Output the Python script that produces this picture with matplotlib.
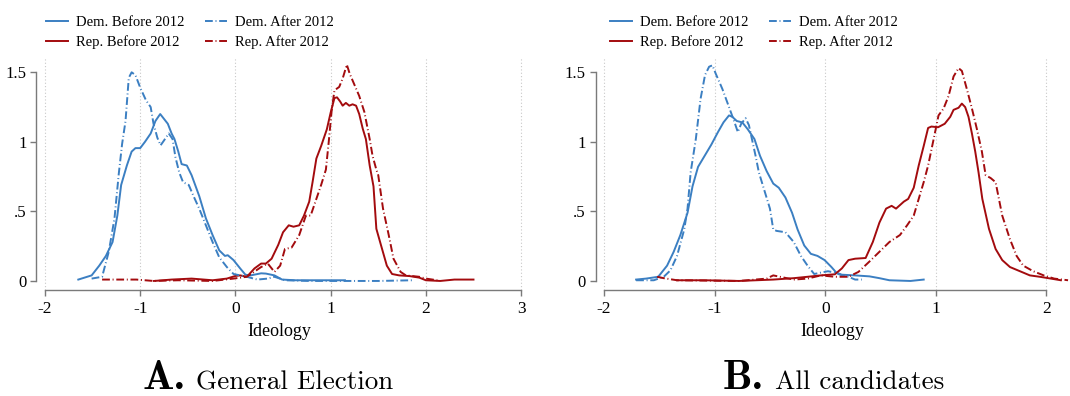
import numpy as np
import matplotlib.pyplot as plt

# kernel density traces of candidate ideology, read off as (x, density) pairs
# panel A: general election
a_dem_before_x = [-1.65, -1.51, -1.43, -1.36, -1.29, -1.24, -1.20, -1.14, -1.09, -1.05, -1.0, -0.95, -0.89, -0.84,
                  -0.79, -0.75, -0.71, -0.67, -0.64, -0.60, -0.565, -0.51, -0.46, -0.38, -0.31, -0.24, -0.17, -0.11,
                  -0.08, -0.02, 0.05, 0.105, 0.16, 0.27, 0.32, 0.41, 0.49, 0.63, 0.96, 1.15]
a_dem_before_y = [0.01, 0.04, 0.11, 0.18, 0.28, 0.47, 0.69, 0.83, 0.93, 0.955, 0.955, 1.0, 1.06, 1.15,
                  1.20, 1.165, 1.13, 1.06, 1.02, 0.93, 0.84, 0.83, 0.76, 0.61, 0.45, 0.33, 0.22, 0.18,
                  0.185, 0.15, 0.09, 0.045, 0.04, 0.055, 0.053, 0.04, 0.01, 0.005, 0.005, 0.005]
a_dem_after_x = [-1.51, -1.40, -1.33, -1.27, -1.225, -1.19, -1.154, -1.12, -1.09, -1.05, -1.0, -0.94, -0.89, -0.86,
                 -0.82, -0.786, -0.75, -0.70, -0.66, -0.63, -0.59, -0.55, -0.49, -0.44, -0.38, -0.31, -0.24, -0.17,
                 -0.09, -0.02, 0.05, 0.12, 0.23, 0.34, 0.41, 0.52, 0.78, 1.5, 1.86]
a_dem_after_y = [0.017, 0.03, 0.21, 0.45, 0.77, 0.985, 1.15, 1.46, 1.50, 1.48, 1.39, 1.30, 1.25, 1.13,
                 1.03, 0.975, 1.01, 1.06, 1.02, 0.89, 0.78, 0.71, 0.69, 0.61, 0.52, 0.40, 0.28, 0.17,
                 0.10, 0.05, 0.04, 0.03, 0.01, 0.017, 0.03, 0.005, 0.0, 0.0, 0.005]
a_rep_before_x = [-0.855, -0.67, -0.46, -0.24, -0.09, 0.0, 0.05, 0.12, 0.20, 0.27, 0.32, 0.38, 0.45, 0.50, 0.56,
                  0.61, 0.67, 0.72, 0.775, 0.81, 0.85, 0.90, 0.96, 1.0, 1.04, 1.067, 1.10, 1.126, 1.16, 1.196,
                  1.23, 1.267, 1.30, 1.337, 1.37, 1.41, 1.45, 1.48, 1.54, 1.59, 1.645, 1.72, 1.83, 1.93, 2.0,
                  2.15, 2.30, 2.50]
a_rep_before_y = [0.0, 0.01, 0.017, 0.005, 0.017, 0.036, 0.04, 0.03, 0.09, 0.125, 0.125, 0.16, 0.26, 0.35, 0.40,
                  0.39, 0.40, 0.47, 0.57, 0.71, 0.88, 0.97, 1.09, 1.21, 1.315, 1.32, 1.29, 1.26, 1.28, 1.26,
                  1.27, 1.26, 1.20, 1.095, 1.02, 0.83, 0.68, 0.375, 0.23, 0.11, 0.05, 0.04, 0.035, 0.024, 0.005,
                  0.0, 0.01, 0.01]
a_rep_after_x = [-1.40, -1.04, -0.86, -0.60, -0.24, -0.02, 0.12, 0.27, 0.34, 0.41, 0.47, 0.52, 0.59, 0.67, 0.74,
                 0.79, 0.85, 0.90, 0.95, 0.98, 1.01, 1.04, 1.09, 1.126, 1.17, 1.20, 1.25, 1.30, 1.354, 1.41,
                 1.44, 1.48, 1.50, 1.55, 1.61, 1.66, 1.735, 1.79, 1.93, 2.0, 2.12]
a_rep_after_y = [0.01, 0.01, 0.0, 0.005, 0.0, 0.017, 0.03, 0.10, 0.125, 0.065, 0.11, 0.23, 0.24, 0.33, 0.47,
                 0.47, 0.59, 0.69, 0.80, 1.0, 1.22, 1.37, 1.395, 1.455, 1.555, 1.49, 1.41, 1.33, 1.215, 1.02,
                 0.90, 0.80, 0.76, 0.52, 0.33, 0.16, 0.065, 0.04, 0.03, 0.017, 0.005]

# panel B: all candidates
b_dem_before_x = [-1.71, -1.62, -1.51, -1.43, -1.37, -1.31, -1.245, -1.20, -1.15, -1.09, -1.03, -0.97, -0.92,
                  -0.87, -0.84, -0.80, -0.75, -0.70, -0.64, -0.59, -0.53, -0.47, -0.42, -0.36, -0.30, -0.25,
                  -0.19, -0.13, -0.07, -0.006, 0.056, 0.10, 0.15, 0.27, 0.40, 0.49, 0.58, 0.77, 0.89]
b_dem_before_y = [0.01, 0.017, 0.03, 0.11, 0.21, 0.33, 0.49, 0.68, 0.82, 0.90, 0.98, 1.07, 1.14,
                  1.19, 1.18, 1.15, 1.14, 1.09, 1.02, 0.90, 0.79, 0.70, 0.67, 0.60, 0.49, 0.37,
                  0.255, 0.195, 0.18, 0.15, 0.10, 0.06, 0.045, 0.04, 0.033, 0.02, 0.005, 0.0, 0.01]
b_dem_after_x = [-1.71, -1.55, -1.46, -1.40, -1.34, -1.275, -1.245, -1.217, -1.17, -1.127, -1.087, -1.05, -1.02,
                 -0.99, -0.93, -0.87, -0.82, -0.79, -0.76, -0.72, -0.69, -0.66, -0.63, -0.60, -0.50, -0.47,
                 -0.44, -0.36, -0.285, -0.22, -0.16, -0.10, -0.04, 0.025, 0.087, 0.15, 0.21, 0.27, 0.33]
b_dem_after_y = [0.005, 0.005, 0.03, 0.076, 0.18, 0.37, 0.52, 0.78, 1.02, 1.31, 1.48, 1.54, 1.55,
                 1.49, 1.38, 1.25, 1.14, 1.07, 1.13, 1.17, 1.12, 1.01, 0.90, 0.78, 0.52, 0.37,
                 0.36, 0.35, 0.28, 0.18, 0.11, 0.05, 0.06, 0.07, 0.06, 0.04, 0.03, 0.01, 0.01]
b_rep_before_x = [-1.34, -1.09, -0.78, -0.47, -0.285, -0.16, -0.04, 0.087, 0.15, 0.21, 0.27, 0.365, 0.43, 0.49,
                  0.55, 0.60, 0.64, 0.71, 0.75, 0.80, 0.845, 0.89, 0.93, 0.96, 1.02, 1.08, 1.13, 1.16, 1.205,
                  1.235, 1.265, 1.295, 1.326, 1.356, 1.386, 1.42, 1.48, 1.54, 1.60, 1.67, 1.76, 1.85, 1.94,
                  2.04, 2.13]
b_rep_before_y = [0.005, 0.005, 0.0, 0.01, 0.02, 0.03, 0.04, 0.048, 0.09, 0.15, 0.16, 0.165, 0.28, 0.42,
                  0.52, 0.54, 0.52, 0.57, 0.59, 0.67, 0.83, 0.97, 1.10, 1.11, 1.105, 1.13, 1.18, 1.23, 1.245,
                  1.275, 1.25, 1.18, 1.06, 0.93, 0.78, 0.59, 0.375, 0.23, 0.15, 0.10, 0.07, 0.04, 0.03,
                  0.017, 0.005]
b_rep_after_x = [-1.52, -1.46, -1.34, -0.78, -0.53, -0.47, -0.41, -0.285, -0.16, -0.04, 0.087, 0.21, 0.30,
                 0.40, 0.49, 0.58, 0.675, 0.74, 0.80, 0.845, 0.89, 0.93, 0.98, 1.024, 1.07, 1.115, 1.16,
                 1.205, 1.235, 1.28, 1.326, 1.37, 1.416, 1.45, 1.495, 1.54, 1.60, 1.67, 1.73, 1.79, 1.88,
                 1.975, 2.07, 2.195]
b_rep_after_y = [0.03, 0.02, 0.005, 0.0, 0.017, 0.04, 0.03, 0.01, 0.017, 0.04, 0.03, 0.03, 0.065,
                 0.14, 0.21, 0.28, 0.33, 0.40, 0.47, 0.59, 0.71, 0.83, 1.02, 1.19, 1.24, 1.33, 1.47,
                 1.53, 1.51, 1.38, 1.24, 1.095, 0.93, 0.76, 0.74, 0.71, 0.47, 0.30, 0.18, 0.11, 0.07,
                 0.04, 0.017, 0.005]

panels = [
    dict(label='A.', title='General Election', xticks=[-2, -1, 0, 1, 2, 3], xlim=(-2.09, 3.02),
         dem_b=(a_dem_before_x, a_dem_before_y), dem_a=(a_dem_after_x, a_dem_after_y),
         rep_b=(a_rep_before_x, a_rep_before_y), rep_a=(a_rep_after_x, a_rep_after_y)),
    dict(label='B.', title='All candidates', xticks=[-2, -1, 0, 1, 2], xlim=(-2.077, 2.2),
         dem_b=(b_dem_before_x, b_dem_before_y), dem_a=(b_dem_after_x, b_dem_after_y),
         rep_b=(b_rep_before_x, b_rep_before_y), rep_a=(b_rep_after_x, b_rep_after_y)),
]
yticks = [0, 0.5, 1, 1.5]
ytick_labels = ['0', '.5', '1', '1.5']

blue = '#3b7fc2'
red = '#a30b0e'
dashdot = (0, (4.0, 1.4, 0.5, 1.4))
serif = 'Liberation Serif'

fig = plt.figure(figsize=(10.7, 3.96), dpi=100)
W, H = 1070, 396
# axes boxes in pixels: left, right, top, bottom
boxes = [(36.4, 523.0, 57, 290), (595.5, 1068.6, 57, 290)]
legend_x = [46, 610]
label_split = [(186, 196), (764, 775)]

for p, (l, r, t, b), lx, (ax_r, tx_l) in zip(panels, boxes, legend_x, label_split):
    ax = fig.add_axes([l / W, 1 - b / H, (r - l) / W, (b - t) / H])
    ax.plot(*p['dem_b'], color=blue, lw=1.4, label='Dem. Before 2012')
    ax.plot(*p['rep_b'], color=red, lw=1.4, label='Rep. Before 2012')
    ax.plot(*p['dem_a'], color=blue, lw=1.4, ls=dashdot, label='Dem. After 2012')
    ax.plot(*p['rep_a'], color=red, lw=1.4, ls=dashdot, label='Rep. After 2012')

    ax.set_xlim(*p['xlim'])
    ax.set_ylim(-0.065, 1.61)
    ax.set_xticks(p['xticks'])
    ax.set_xticklabels([str(v) for v in p['xticks']], family=serif, fontsize=12.5)
    ax.set_yticks(yticks)
    ax.set_yticklabels(ytick_labels, family=serif, fontsize=12)
    ax.grid(axis='x', ls=(0, (1, 2)), color='#c8c8c8', lw=0.8)
    for s in ['top', 'right']:
        ax.spines[s].set_visible(False)
    ax.spines['left'].set_bounds(0, 1.5)
    ax.spines['bottom'].set_bounds(p['xticks'][0], p['xticks'][-1])
    for s in ['left', 'bottom']:
        ax.spines[s].set_color('#7a7a7a')
        ax.spines[s].set_linewidth(1.0)
    ax.tick_params(direction='out', length=4, width=1.0, color='#7a7a7a', pad=3)
    ax.tick_params(axis='x', pad=4)
    ax.set_xlabel('Ideology', family=serif, fontsize=13, labelpad=4)

    ax.legend(ncol=2, loc='upper left', bbox_to_anchor=(lx / W, 1 - 16 / H), bbox_transform=fig.transFigure,
              frameon=False, prop=dict(family=serif, size=10.5), handlelength=1.5, handletextpad=0.55,
              columnspacing=1.4, labelspacing=0.4, borderaxespad=0, borderpad=0)

    fig.text(ax_r / W, 1 - 389 / H, p['label'], family='cmb10', fontsize=30, ha='right', va='baseline')
    fig.text(tx_l / W, 1 - 389 / H, p['title'], family='cmr10', fontsize=19.5, ha='left', va='baseline')

fig.savefig('out.png', dpi=100)
